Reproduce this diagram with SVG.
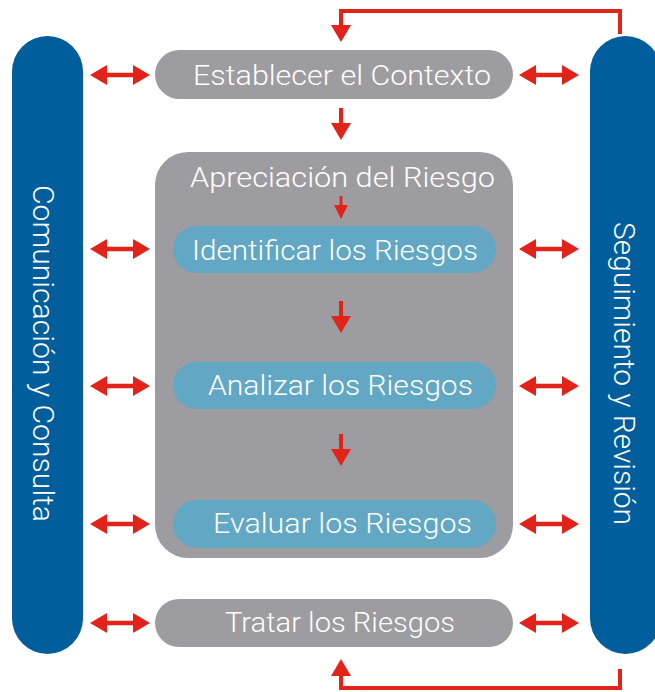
<svg xmlns="http://www.w3.org/2000/svg" width="655" height="692" viewBox="0 0 655 692">
<style>
.blue{fill:#005e9c}
.gray{fill:#9d9ca0}
.lb{fill:#62a7c3}
.t{font-family:Roboto,"Liberation Sans",sans-serif;font-weight:300;font-size:28px;fill:#ffffff}
.tv{font-family:Roboto,"Liberation Sans",sans-serif;font-weight:300;font-size:29px;fill:#ffffff}
.red{fill:#e2231a}
.fb{fill:none;stroke:#e2231a;stroke-width:4;stroke-linejoin:miter}
</style>
<defs>
<path id="dbl" d="M0,0 L17,-10 L17,-2.2 L43,-2.2 L43,-10 L60,0 L43,10 L43,2.2 L17,2.2 L17,10 Z"/>
<path id="down" d="M-2,0 L2,0 L2,15 L10,15 L0,32 L-10,15 L-2,15 Z"/>
</defs>
<rect width="655" height="692" fill="#ffffff"/>

<g id="comunicacion">
<rect class="blue" x="12" y="36" width="71" height="618" rx="35.5"/>
<text class="tv" transform="translate(33,185) rotate(90)" textLength="337" lengthAdjust="spacingAndGlyphs">Comunicación y Consulta</text>
</g>
<g id="seguimiento">
<rect class="blue" x="590" y="36" width="71" height="618" rx="35.5"/>
<text class="tv" transform="translate(614,222) rotate(90)" textLength="303" lengthAdjust="spacingAndGlyphs">Seguimiento y Revisión</text>
</g>
<g id="establecer">
<rect class="gray" x="155" y="50" width="358" height="49" rx="24.5"/>
<text class="t" x="193" y="85" textLength="298" lengthAdjust="spacingAndGlyphs">Establecer el Contexto</text>
</g>
<g id="apreciacion">
<rect class="gray" x="155" y="152" width="358" height="406" rx="33"/>
<text class="t" x="190" y="187" textLength="305" lengthAdjust="spacingAndGlyphs">Apreciación del Riesgo</text>
</g>
<g id="identificar">
<rect class="lb" x="173" y="226" width="323" height="47" rx="23.5"/>
<text class="t" x="192" y="260" textLength="286" lengthAdjust="spacingAndGlyphs">Identificar los Riesgos</text>
</g>
<g id="analizar">
<rect class="lb" x="173" y="362" width="323" height="47" rx="23.5"/>
<text class="t" x="208" y="395" textLength="265" lengthAdjust="spacingAndGlyphs">Analizar los Riesgos</text>
</g>
<g id="evaluar">
<rect class="lb" x="173" y="500" width="323" height="48" rx="24"/>
<text class="t" x="213" y="533" textLength="259" lengthAdjust="spacingAndGlyphs">Evaluar los Riesgos</text>
</g>
<g id="tratar">
<rect class="gray" x="155" y="599" width="358" height="48" rx="24"/>
<text class="t" x="225" y="632" textLength="230" lengthAdjust="spacingAndGlyphs">Tratar los Riesgos</text>
</g>

<g id="connectors">
<path class="fb" d="M620,34 V11 H341 V27"/>
<polygon class="red" points="331,25 351,25 341,42"/>
<path class="fb" d="M620,669 V688 H341 V674"/>
<polygon class="red" points="331,676 351,676 341,659"/>
<use href="#down" class="red" x="341" y="108"/>
<use href="#down" class="red" x="341" y="301"/>
<use href="#down" class="red" x="341" y="434"/>
<path class="red" d="M339.6,196 L342.4,196 L342.4,205 L348,205 L341,219 L334,205 L339.6,205 Z"/>
<use href="#dbl" class="red" x="90" y="75"/>
<use href="#dbl" class="red" x="90" y="249"/>
<use href="#dbl" class="red" x="90" y="386"/>
<use href="#dbl" class="red" x="90" y="524"/>
<use href="#dbl" class="red" x="90" y="623"/>
<use href="#dbl" class="red" x="519" y="75"/>
<use href="#dbl" class="red" x="519" y="249"/>
<use href="#dbl" class="red" x="519" y="386"/>
<use href="#dbl" class="red" x="519" y="524"/>
<use href="#dbl" class="red" x="519" y="623"/>
</g>
</svg>
